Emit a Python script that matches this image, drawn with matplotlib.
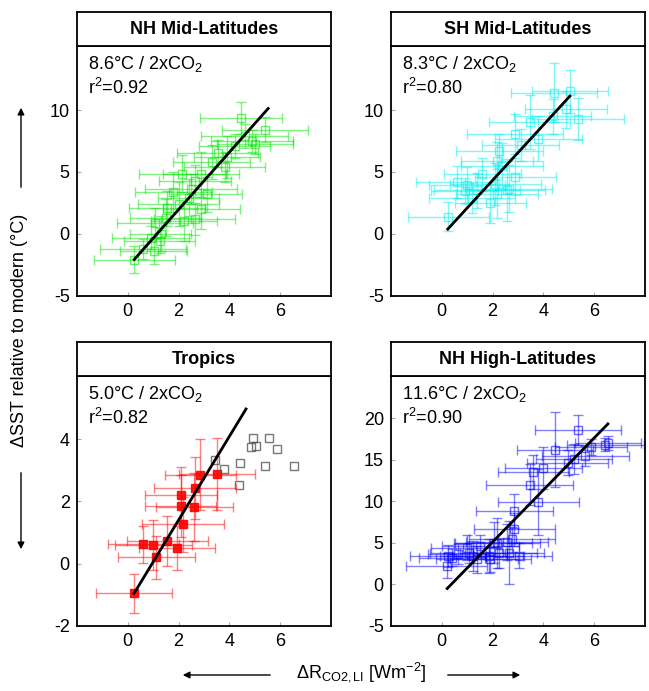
import matplotlib
matplotlib.use("Agg")
import matplotlib.pyplot as plt

plt.rcParams["font.family"] = ["Liberation Sans", "DejaVu Sans"]
plt.rcParams["mathtext.fontset"] = "custom"
plt.rcParams["mathtext.rm"] = "Liberation Sans"
plt.rcParams["mathtext.it"] = "Liberation Sans:italic"
plt.rcParams["mathtext.bf"] = "Liberation Sans:bold"

# --- data ---
nhm_x = [0.26, 0.6, 1.02, 1.26, 0.9, 1.08, 1.5, 2.63, 2.2, 1.54, 2.0, 2.4, 1.8, 2.65, 2.15,
         2.89, 2.5, 3.1, 3.81, 3.3, 3.54, 4.2, 4.89, 5.0, 4.6, 5.39, 4.46, 3.9, 2.9, 1.3]
nhm_y = [-2.1, -1.2, -1.4, -0.55, -0.3, 0.9, 1.3, 1.2, 1.0, 2.06, 2.4, 2.9, 3.4, 4.24, 4.86,
         4.8, 3.6, 3.2, 5.39, 5.8, 6.5, 7.1, 7.52, 7.25, 7.9, 8.4, 9.33, 6.2, 2.0, 0.0]
nhm_xerr = [1.6, 1.7, 1.3, 1.4, 1.5, 1.5, 1.4, 1.6, 1.3, 1.5, 1.6, 1.2, 1.5, 1.4, 1.7,
            1.5, 1.8, 1.4, 1.6, 1.5, 1.6, 1.4, 1.6, 1.5, 1.7, 1.7, 1.6, 1.3, 1.5, 1.2]
nhm_yerr = [1.1, 0.8, 1.0, 1.0, 0.9, 1.2, 1.5, 1.3, 1.6, 1.4, 1.8, 1.5, 1.6, 1.3, 1.5,
            1.8, 1.2, 1.4, 1.2, 1.4, 1.1, 1.0, 0.9, 0.8, 1.0, 1.0, 1.3, 1.7, 1.6, 1.4]

shm_x = [0.26, 0.59, 0.99, 1.39, 1.91, 2.18, 2.11, 2.57, 2.64, 1.6, 2.38, 2.18, 2.27,
         2.88, 3.46, 3.8, 3.1, 4.42, 5.04, 4.88, 5.36, 4.36, 1.2, 0.9, 2.9]
shm_y = [1.39, 4.19, 3.92, 3.52, 2.45, 3.25, 4.05, 3.52, 3.65, 4.8, 5.5, 5.9, 6.7,
         8.05, 9.04, 7.7, 7.2, 11.4, 11.5, 10.05, 9.26, 9.5, 2.9, 3.5, 4.6]
shm_xerr = [1.6, 1.6, 1.5, 1.7, 1.4, 1.6, 1.8, 1.5, 1.7, 1.5, 1.6, 1.4, 1.7,
            1.9, 1.6, 1.7, 1.5, 1.7, 1.5, 1.6, 1.8, 1.5, 1.7, 1.3, 1.6]
shm_yerr = [1.2, 1.3, 1.5, 1.4, 1.6, 2.0, 1.7, 2.5, 1.9, 1.3, 1.8, 1.5, 1.4,
            1.6, 2.2, 1.8, 1.3, 2.4, 1.7, 1.5, 1.7, 1.4, 1.2, 1.0, 1.5]

tro_x = [0.25, 0.62, 1.01, 1.13, 1.56, 1.93, 2.17, 2.08, 2.10, 2.62, 2.65, 2.86, 3.52]
tro_y = [-0.96, 0.62, 0.59, 0.2, 0.72, 0.50, 1.26, 1.86, 2.2, 1.82, 2.42, 2.86, 2.89]
tro_xerr = [1.5, 1.4, 1.5, 1.5, 1.6, 1.5, 1.6, 1.4, 1.4, 1.5, 1.6, 1.4, 1.5]
tro_yerr = [0.64, 0.6, 0.8, 0.7, 0.8, 0.7, 0.9, 1.0, 0.9, 1.1, 1.0, 1.15, 1.15]
tro_grey_x = [4.93, 5.57, 4.83, 5.06, 5.85, 3.44, 3.80, 4.43, 5.38, 6.53, 4.39]
tro_grey_y = [4.04, 4.05, 3.75, 3.8, 3.68, 3.34, 3.03, 3.24, 3.13, 3.13, 2.52]

nhh_x = [0.2, 0.26, 0.4, 0.66, 0.99, 1.06, 1.25, 1.39, 1.52, 1.85, 1.91, 2.04, 2.18, 2.24,
         2.57, 2.64, 2.77, 3.04, 2.86, 2.86, 3.8, 3.46, 4.45, 4.95, 5.21, 5.65, 5.35, 5.87,
         6.43, 6.54, 4.0, 3.6]
nhh_y = [2.2, 3.4, 3.2, 3.6, 4.4, 3.8, 3.4, 3.0, 4.6, 3.4, 3.0, 5.0, 5.0, 3.8,
         5.1, 3.8, 5.4, 3.4, 6.6, 8.8, 9.9, 12.0, 16.2, 14.6, 15.1, 15.4, 18.6, 16.5,
         16.8, 17.0, 14.0, 13.5]
nhh_xerr = [1.6, 1.5, 1.3, 1.2, 1.4, 1.5, 1.3, 1.6, 1.5, 1.4, 1.6, 1.5, 1.7, 1.5,
            1.6, 1.4, 1.7, 1.3, 1.6, 1.5, 1.6, 1.7, 1.5, 1.6, 1.5, 1.7, 1.7, 1.4,
            1.5, 1.3, 1.5, 1.4]
nhh_yerr = [1.5, 1.3, 1.0, 1.2, 1.5, 1.2, 1.8, 1.6, 1.3, 2.0, 1.5, 2.5, 3.0, 1.8,
            2.2, 3.8, 1.5, 1.5, 2.0, 2.0, 4.0, 2.5, 4.5, 1.5, 1.8, 1.2, 1.8, 1.0,
            0.8, 0.9, 2.5, 2.0]

titles = ["NH Mid-Latitudes", "SH Mid-Latitudes", "Tropics", "NH High-Latitudes"]
sensitivity = ["8.6", "8.3", "5.0", "11.6"]
r2 = ["0.92", "0.80", "0.82", "0.90"]
fit_slope = [2.32, 2.24, 1.35, 3.14]
fit_icpt = [-2.68, -0.16, -1.30, -1.21]
fit_xrange = [(0.26, 5.52), (0.24, 5.04), (0.25, 4.65), (0.22, 6.53)]
yticks = [[-5, 0, 5, 10], [-5, 0, 5, 10], [-2, 0, 2, 4], [-5, 0, 5, 10, 15, 20]]
ylims = [(-5, 15.2), (-5, 15.2), (-2, 6.05), (-5, 25.1)]
colors = ["#00e600", "#00f0f0", "#ff0000", "#0000ff"]

series = [(nhm_x, nhm_y, nhm_xerr, nhm_yerr),
          (shm_x, shm_y, shm_xerr, shm_yerr),
          (tro_x, tro_y, tro_xerr, tro_yerr),
          (nhh_x, nhh_y, nhh_xerr, nhh_yerr)]

W, H = 649, 691
fig = plt.figure(figsize=(W / 100, H / 100), dpi=100)

# panel boxes in pixels: (left, top of axes, width, height), title box height
lefts = [76.7, 390.7, 76.7, 390.7]
tops = [45.7, 45.7, 375.7, 375.7]
pw, ph, th = 254.6, 250.0, 33.7

for i in range(4):
    l, t = lefts[i], tops[i]
    ax = fig.add_axes([l / W, 1 - (t + ph) / H, pw / W, ph / H])
    tax = fig.add_axes([l / W, 1 - t / H, pw / W, th / H])
    tax.set_xticks([]); tax.set_yticks([])
    tax.text(0.5, 0.48, titles[i], ha="center", va="center", fontsize=13, fontweight="bold")
    for a in (ax, tax):
        for s in a.spines.values():
            s.set_linewidth(1.3)

    x, y, xe, ye = series[i]
    c = colors[i]
    ax.errorbar(x, y, xerr=xe, yerr=ye, fmt="none", ecolor=c, alpha=0.5,
                elinewidth=1.0, capsize=3.5, capthick=1.0, zorder=2)
    if i == 2:
        ax.plot(x, y, "s", color=c, ms=6, alpha=0.9, zorder=3)
        ax.plot(tro_grey_x, tro_grey_y, "s", mfc="none", mec="#555555", ms=6,
                mew=1.0, alpha=0.8, zorder=3)
    else:
        ax.plot(x, y, "s", mfc="none", mec=c, ms=6, mew=1.0, alpha=0.6, zorder=3)

    x0, x1 = fit_xrange[i]
    ax.plot([x0, x1], [fit_slope[i] * x0 + fit_icpt[i], fit_slope[i] * x1 + fit_icpt[i]],
            color="black", lw=2.0, zorder=4)

    ax.text(0.045, 0.965, sensitivity[i] + "°C / 2xCO$_2$", transform=ax.transAxes,
            ha="left", va="top", fontsize=13)
    ax.text(0.045, 0.87, "r$^2$=" + r2[i], transform=ax.transAxes,
            ha="left", va="top", fontsize=13)

    ax.set_xlim(-2, 8)
    ax.set_ylim(*ylims[i])
    ax.set_xticks([0, 2, 4, 6])
    ax.set_yticks(yticks[i])
    ax.set_yticklabels([str(v) for v in yticks[i]])
    ax.tick_params(direction="in", length=3, color="#aaaaaa", labelsize=13, pad=5)

# shared axis labels with arrows
fig.text(361 / W, 1 - 672 / H, "ΔR$_{\\mathrm{CO2,LI}}$ [Wm$^{-2}$]", ha="center",
         va="center", fontsize=13)
arrow = dict(arrowstyle="-|>", color="black", lw=1.0, mutation_scale=10)
fig.add_artist(matplotlib.patches.FancyArrowPatch((273 / W, 1 - 675 / H), (180 / W, 1 - 675 / H),
               transform=fig.transFigure, **arrow))
fig.add_artist(matplotlib.patches.FancyArrowPatch((445 / W, 1 - 675 / H), (523 / W, 1 - 675 / H),
               transform=fig.transFigure, **arrow))

fig.text(20 / W, 1 - 330 / H, "ΔSST relative to modern (°C)", rotation=90,
         ha="center", va="center", fontsize=13)
fig.add_artist(matplotlib.patches.FancyArrowPatch((21 / W, 1 - 190 / H), (21 / W, 1 - 105 / H),
               transform=fig.transFigure, **arrow))
fig.add_artist(matplotlib.patches.FancyArrowPatch((21 / W, 1 - 470 / H), (21 / W, 1 - 552 / H),
               transform=fig.transFigure, **arrow))

fig.savefig("out.png", dpi=100)
plt.close(fig)
